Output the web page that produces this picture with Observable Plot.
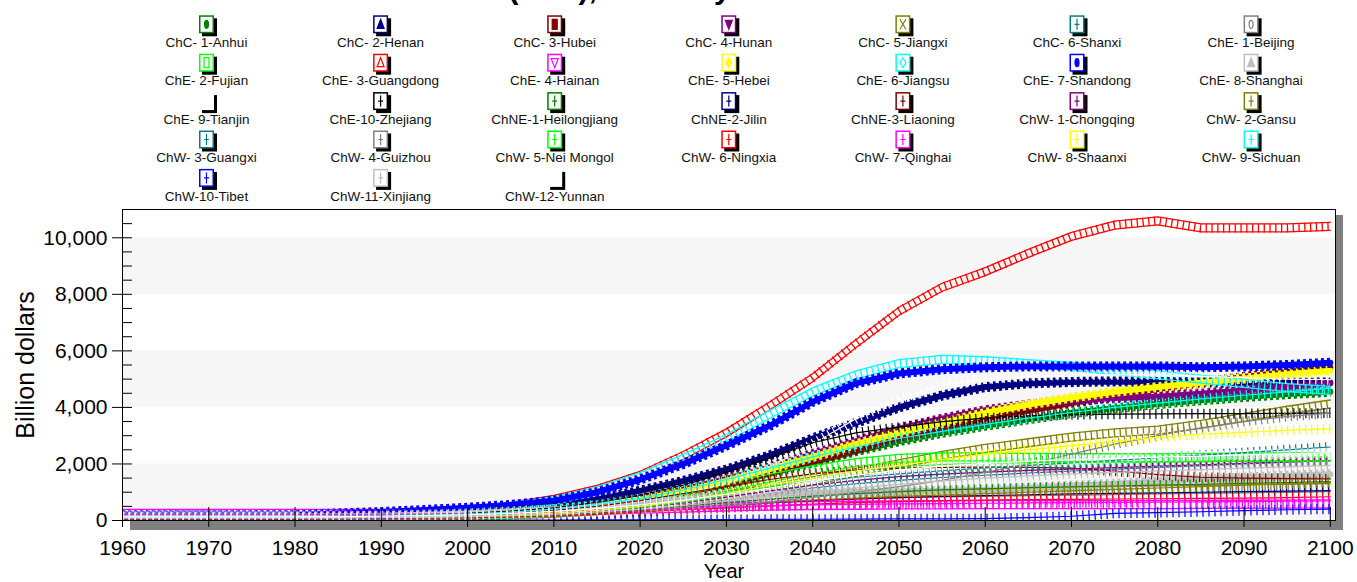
<!DOCTYPE html>
<html><head><meta charset="utf-8">
<script src="https://cdn.jsdelivr.net/npm/d3@7"></script>
<script src="https://cdn.jsdelivr.net/npm/@observablehq/plot@0.6"></script>
<style>
body{margin:0;background:#fff;font-family:"Liberation Sans",Arial,sans-serif;}
#wrap{position:relative;width:1357px;height:582px;overflow:hidden;background:#fff;}
.shadow{position:absolute;background:#808080;}
</style></head><body>
<div id="wrap">
  <div class="shadow" style="left:130px;top:520px;width:1213px;height:10px;"></div>
  <div class="shadow" style="left:1335px;top:215px;width:8px;height:315px;"></div>
</div>
<script>
// ---------------- data ----------------
const titleText = "GDP (PPP), Annually";
const xTitle = "Year";
const yTitle = "Billion dollars";
const years = [1960,1965,1970,1975,1980,1985,1990,1995,2000,2005,2010,2015,2020,2025,2030,2035,2040,2045,2050,2055,2060,2065,2070,2075,2080,2085,2090,2095,2100];
const xTicks = [1960,1970,1980,1990,2000,2010,2020,2030,2040,2050,2060,2070,2080,2090,2100];
const yMajor = [0,2000,4000,6000,8000,10000];
const yMinor = [0,500,1000,1500,2000,2500,3000,3500,4000,4500,5000,5500,6000,6500,7000,7500,8000,8500,9000,9500,10000,10500,11000];
const bandLow = [0,4000,8000];
const bandHigh = [2000,6000,10000];

const seriesNames = ["ChC- 1-Anhui","ChC- 2-Henan","ChC- 3-Hubei","ChC- 4-Hunan","ChC- 5-Jiangxi","ChC- 6-Shanxi","ChE- 1-Beijing",
 "ChE- 2-Fujian","ChE- 3-Guangdong","ChE- 4-Hainan","ChE- 5-Hebei","ChE- 6-Jiangsu","ChE- 7-Shandong","ChE- 8-Shanghai",
 "ChE- 9-Tianjin","ChE-10-Zhejiang","ChNE-1-Heilongjiang","ChNE-2-Jilin","ChNE-3-Liaoning","ChW- 1-Chongqing","ChW- 2-Gansu",
 "ChW- 3-Guangxi","ChW- 4-Guizhou","ChW- 5-Nei Mongol","ChW- 6-Ningxia","ChW- 7-Qinghai","ChW- 8-Shaanxi","ChW- 9-Sichuan",
 "ChW-10-Tibet","ChW-11-Xinjiang","ChW-12-Yunnan"];
const seriesColors = ["#008000","#000080","#800000","#800080","#808000","#008080","#808080",
 "#00ff00","#ff0000","#ff00ff","#ffff00","#00ffff","#0000ff","#c0c0c0",
 "#ffffff","#000000","#008000","#000080","#800000","#800080","#808000",
 "#008080","#808080","#00ff00","#ff0000","#ff00ff","#ffff00","#00ffff",
 "#0000ff","#c0c0c0","#ffffff"];
const seriesMarkers = ["ellipseF","triF","rectF","triDownF","x","plus","ellipseO",
 "rectO","triO","triDownO","diamondF","diamondO","ellipseF","triF",
 "none","plus","plus","plus","plus","plus","plus",
 "plus","plus","plus","plus","plus","plus","plus",
 "plus","plus","none"];

const anhui = [130,130,130,130,130,140,150,170,200,260,350,480,680,950,1280,1650,2050,2450,2800,3100,3350,3580,3800,3970,4120,4250,4370,4470,4550];
const henan = [150,150,150,150,150,160,180,210,260,350,500,740,1050,1400,1800,2300,2900,3450,4000,4420,4720,4850,4900,4920,4900,4880,4870,4870,4880];
const hubei = [130,130,130,130,130,140,150,170,210,270,360,500,700,980,1320,1700,2100,2500,2950,3300,3600,3880,4150,4400,4650,4870,5080,5250,5420];
const hunan = [140,140,140,140,140,150,160,190,230,300,410,570,800,1100,1470,1880,2350,2800,3250,3600,3900,4100,4250,4330,4380,4480,4600,4720,4850];
const jiangxi = [110,110,110,110,110,115,125,140,160,200,260,350,480,660,880,1120,1400,1700,2000,2300,2550,2750,2950,3100,3200,3400,3650,3900,4120];
const shanxi = [100,100,100,100,100,105,115,130,150,190,250,340,460,620,800,980,1150,1300,1420,1520,1600,1680,1750,1820,1880,1940,2000,2060,2120];
const beijing = [120,120,120,120,120,130,140,160,190,240,310,400,500,600,700,780,850,900,950,980,1000,1020,1040,1060,1080,1100,1120,1140,1160];
const fujian = [110,110,110,110,110,115,125,140,170,220,300,420,600,850,1150,1500,1800,2050,2200,2250,2250,2230,2220,2220,2220,2230,2240,2250,2260];
const guangdong = [150,150,150,150,150,160,190,250,350,500,750,1100,1600,2300,3100,4050,5050,6250,7400,8250,8800,9450,10050,10450,10600,10350,10350,10350,10400];
const hainan = [250,250,250,250,250,250,250,260,270,290,320,360,400,440,480,510,530,540,550,555,560,560,560,560,565,570,575,580,590];
const hebei = [130,130,130,130,130,140,150,170,210,270,370,520,740,1030,1400,1820,2250,2700,3100,3450,3800,4100,4350,4550,4720,4870,5020,5170,5300];
const jiangsu = [150,150,150,150,150,160,190,240,330,480,700,1050,1550,2200,2900,3750,4550,5150,5550,5700,5650,5550,5450,5300,5150,5000,4850,4700,4600];
const shandong = [180,180,180,180,190,250,300,370,450,550,700,1000,1450,2000,2650,3350,4200,4850,5200,5350,5420,5450,5450,5450,5450,5420,5450,5500,5580];
const shanghai = [140,140,140,140,140,150,170,200,250,320,400,500,620,740,850,930,980,1010,1030,1050,1080,1150,1230,1300,1380,1450,1520,1580,1640];
const tianjin = [120,120,120,120,120,130,140,160,200,260,350,480,680,950,1300,1900,2700,3600,4300,4800,5000,5100,5150,5150,5150,5100,5050,5000,4980];
const zhejiang = [140,140,140,140,140,150,170,200,250,330,450,640,900,1250,1700,2200,2750,3100,3300,3500,3620,3700,3740,3760,3770,3780,3780,3790,3800];
const heilongjiang = [110,110,110,110,110,115,120,135,155,190,240,310,400,510,630,750,860,950,1020,1080,1120,1160,1190,1220,1250,1280,1310,1340,1380];
const jilin = [90,90,90,90,90,95,100,110,125,150,190,250,330,430,530,620,700,760,810,850,880,910,940,960,980,1000,1020,1040,1060];
const liaoning = [130,130,130,130,130,140,150,170,210,270,360,500,700,950,1200,1450,1650,1780,1850,1880,1890,1880,1850,1750,1620,1530,1500,1480,1470];
const chongqing = [90,90,90,90,90,95,100,115,135,170,230,320,450,620,830,1050,1250,1420,1550,1640,1710,1770,1820,1870,1920,1970,2020,2070,2120];
const gansu = [80,80,80,80,80,85,90,100,115,140,180,240,320,420,530,630,720,790,850,900,950,1000,1050,1100,1150,1200,1250,1300,1350];
const guangxi = [100,100,100,100,100,105,115,130,155,200,270,370,520,720,950,1180,1380,1530,1650,1760,1860,1950,2040,2130,2220,2310,2400,2500,2600];
const guizhou = [70,70,70,70,70,75,80,90,105,130,165,220,300,400,520,660,820,1000,1200,1420,1700,2000,2350,2700,3000,3280,3500,3680,3800];
const neiMongol = [80,80,80,80,80,85,90,100,120,160,220,320,460,650,900,1200,1500,1750,1900,1980,2020,2050,2060,2070,2070,2080,2090,2100,2110];
const ningxia = [60,60,60,60,60,65,70,80,95,120,160,220,300,380,450,520,580,630,670,700,720,740,750,760,770,780,790,810,840];
const qinghai = [220,220,220,220,220,220,225,230,240,260,290,330,380,430,480,520,550,570,590,600,610,620,630,640,650,660,670,680,690];
const shaanxi = [100,100,100,100,100,105,115,130,150,190,260,360,500,700,950,1250,1500,1750,1950,2150,2350,2500,2650,2800,2950,3050,3120,3190,3250];
const sichuan = [140,140,140,140,140,150,165,190,230,300,400,560,780,1080,1450,1850,2250,2600,2900,3150,3400,3620,3820,4000,4150,4300,4430,4550,4680];
const tibet = [10,10,10,10,10,10,10,12,14,16,18,20,25,30,35,40,45,50,55,60,65,100,150,250,280,310,350,380,400];
const xinjiang = [90,90,90,90,90,95,100,115,135,170,220,300,400,530,680,840,1000,1150,1280,1400,1500,1580,1650,1700,1750,1800,1850,1900,1950];
const yunnan = [130,130,130,130,130,140,150,170,200,250,320,420,550,720,920,1150,1380,1600,1780,1920,2020,2100,2150,2200,2240,2280,2320,2360,2400];

const seriesValues = [anhui,henan,hubei,hunan,jiangxi,shanxi,beijing,fujian,guangdong,hainan,hebei,jiangsu,shandong,shanghai,
 tianjin,zhejiang,heilongjiang,jilin,liaoning,chongqing,gansu,guangxi,guizhou,neiMongol,ningxia,qinghai,shaanxi,sichuan,tibet,xinjiang,yunnan];

// ---------------- chart ----------------
const FONT = "'Liberation Sans', Arial, sans-serif";
const xDomain = [1960, 2100.6];
const yDomain = [0, 11000];

const marks = [];
marks.push(Plot.rect(bandLow.map((d,i)=>({y1:d,y2:bandHigh[i]})), {x1: () => xDomain[0], x2: () => xDomain[1], y1:"y1", y2:"y2", fill:"#f6f6f6"}));

seriesNames.forEach((name,i)=>{
  const rows = years.map((yr,j)=>({name, year: yr, value: seriesValues[i][j]}));
  const c = seriesColors[i];
  const m = seriesMarkers[i];
  const base = {x:"year", y:"value", stroke:c, clip:true};
  if (m.endsWith("F")) {
    marks.push(Plot.line(rows, {...base, strokeWidth:6}));
    marks.push(Plot.line(rows, {...base, strokeWidth:10, strokeDasharray:"3,3", strokeLinecap:"butt"}));
  } else if (m.endsWith("O") || m === "x") {
    marks.push(Plot.line(rows, {...base, strokeWidth:1.3, dy:4}));
    marks.push(Plot.line(rows, {...base, strokeWidth:1.3, dy:-4}));
    marks.push(Plot.line(rows, {...base, strokeWidth:9, strokeDasharray:"1.3,4.5", strokeLinecap:"butt"}));
  } else {
    marks.push(Plot.line(rows, {...base, strokeWidth:1.2}));
    marks.push(Plot.line(rows, {...base, strokeWidth:10, strokeDasharray:"1.2,4.8", strokeLinecap:"butt"}));
  }
});

marks.push(Plot.frame({stroke:"black", strokeWidth:1}));
marks.push(Plot.axisY({ticks:yMajor, tickSize:10, tickPadding:5, tickFormat:d3.format(","), fontSize:21, label:null}));
marks.push(Plot.axisY({ticks:yMinor, tickSize:10, dx:10, tickFormat:()=>"", label:null}));
marks.push(Plot.axisX({ticks:xTicks, tickSize:7, tickPadding:13, tickFormat:d3.format("d"), fontSize:21, label:null}));
marks.push(Plot.axisX({ticks:xTicks, tickSize:13, dy:-13, tickFormat:()=>"", label:null}));

const chart = Plot.plot({
  width:1357, height:382,
  marginTop:9, marginBottom:62, marginLeft:122, marginRight:22,
  style:{background:"transparent", fontFamily:FONT, color:"black", overflow:"visible"},
  x:{domain:xDomain, label:null},
  y:{domain:yDomain, label:null},
  marks
});
chart.style.position = "absolute";
chart.style.left = "0px";
chart.style.top = "200px";
document.getElementById("wrap").appendChild(chart);

// ---------------- overlay: title, legend, axis titles ----------------
const ov = d3.select("#wrap").append("svg")
  .attr("width",1357).attr("height",582)
  .style("position","absolute").style("left","0px").style("top","0px")
  .style("font-family",FONT);

const ctx = document.createElement("canvas").getContext("2d");
ctx.font = "bold 30px 'Liberation Sans'";
const preW = ctx.measureText("GDP ").width;
ov.append("text").attr("x", 509 - preW).attr("y", -1)
  .attr("font-size",30).attr("font-weight","bold").attr("fill","#000").text(titleText);

function drawSymbol(g, type, color, cx, cy){
  const filled = type.endsWith("F");
  const fill = filled ? color : "none";
  const sw = 1.2;
  if (type.startsWith("ellipse")) g.append("ellipse").attr("cx",cx).attr("cy",cy).attr("rx",2).attr("ry",4).attr("fill",fill).attr("stroke",color).attr("stroke-width",sw);
  else if (type.startsWith("rect")) g.append("rect").attr("x",cx-2.5).attr("y",cy-5).attr("width",5).attr("height",10).attr("fill",fill).attr("stroke",color).attr("stroke-width",sw);
  else if (type.startsWith("triDown")) g.append("path").attr("d",`M${cx-3.5},${cy-4}L${cx+3.5},${cy-4}L${cx},${cy+5}Z`).attr("fill",fill).attr("stroke",color).attr("stroke-width",sw);
  else if (type.startsWith("tri")) g.append("path").attr("d",`M${cx},${cy-5}L${cx+3.5},${cy+4}L${cx-3.5},${cy+4}Z`).attr("fill",fill).attr("stroke",color).attr("stroke-width",sw);
  else if (type.startsWith("diamond")) g.append("path").attr("d",`M${cx},${cy-5}L${cx+3},${cy}L${cx},${cy+5}L${cx-3},${cy}Z`).attr("fill",fill).attr("stroke",color).attr("stroke-width",sw);
  else if (type === "x") g.append("path").attr("d",`M${cx-3},${cy-5}L${cx+3},${cy+5}M${cx+3},${cy-5}L${cx-3},${cy+5}`).attr("stroke",color).attr("stroke-width",sw).attr("fill","none");
  else if (type === "plus") g.append("path").attr("d",`M${cx},${cy-5.5}V${cy+5.5}M${cx-2.5},${cy}H${cx+2.5}`).attr("stroke",color).attr("stroke-width",sw).attr("fill","none");
}

seriesNames.forEach((name,i)=>{
  const r = Math.floor(i/7), c = i%7;
  const cxCol = 206.5 + 174.1*c;
  const top = 15.3 + 38.4*r;
  const g = ov.append("g").attr("transform",`translate(${cxCol-7.5},${top})`);
  g.append("rect").attr("x",3).attr("y",3).attr("width",15).attr("height",18).attr("fill","#000");
  g.append("rect").attr("x",0.75).attr("y",0.75).attr("width",13.5).attr("height",16.5)
    .attr("fill","#fff").attr("stroke",seriesColors[i]).attr("stroke-width",1.5);
  drawSymbol(g, seriesMarkers[i], seriesColors[i], 7.5, 9);
  ov.append("text").attr("x",cxCol).attr("y",47 + 38.4*r).attr("text-anchor","middle")
    .attr("font-size",13.5).attr("fill","#111").text(name);
});

ov.append("text").attr("x",724).attr("y",571).attr("text-anchor","middle").attr("dominant-baseline","central")
  .attr("font-size",20).attr("fill","#000").text(xTitle);
ov.append("text").attr("transform","translate(25,365) rotate(-90)").attr("text-anchor","middle").attr("dominant-baseline","central")
  .attr("font-size",25).attr("fill","#000").text(yTitle);
</script>
</body></html>
